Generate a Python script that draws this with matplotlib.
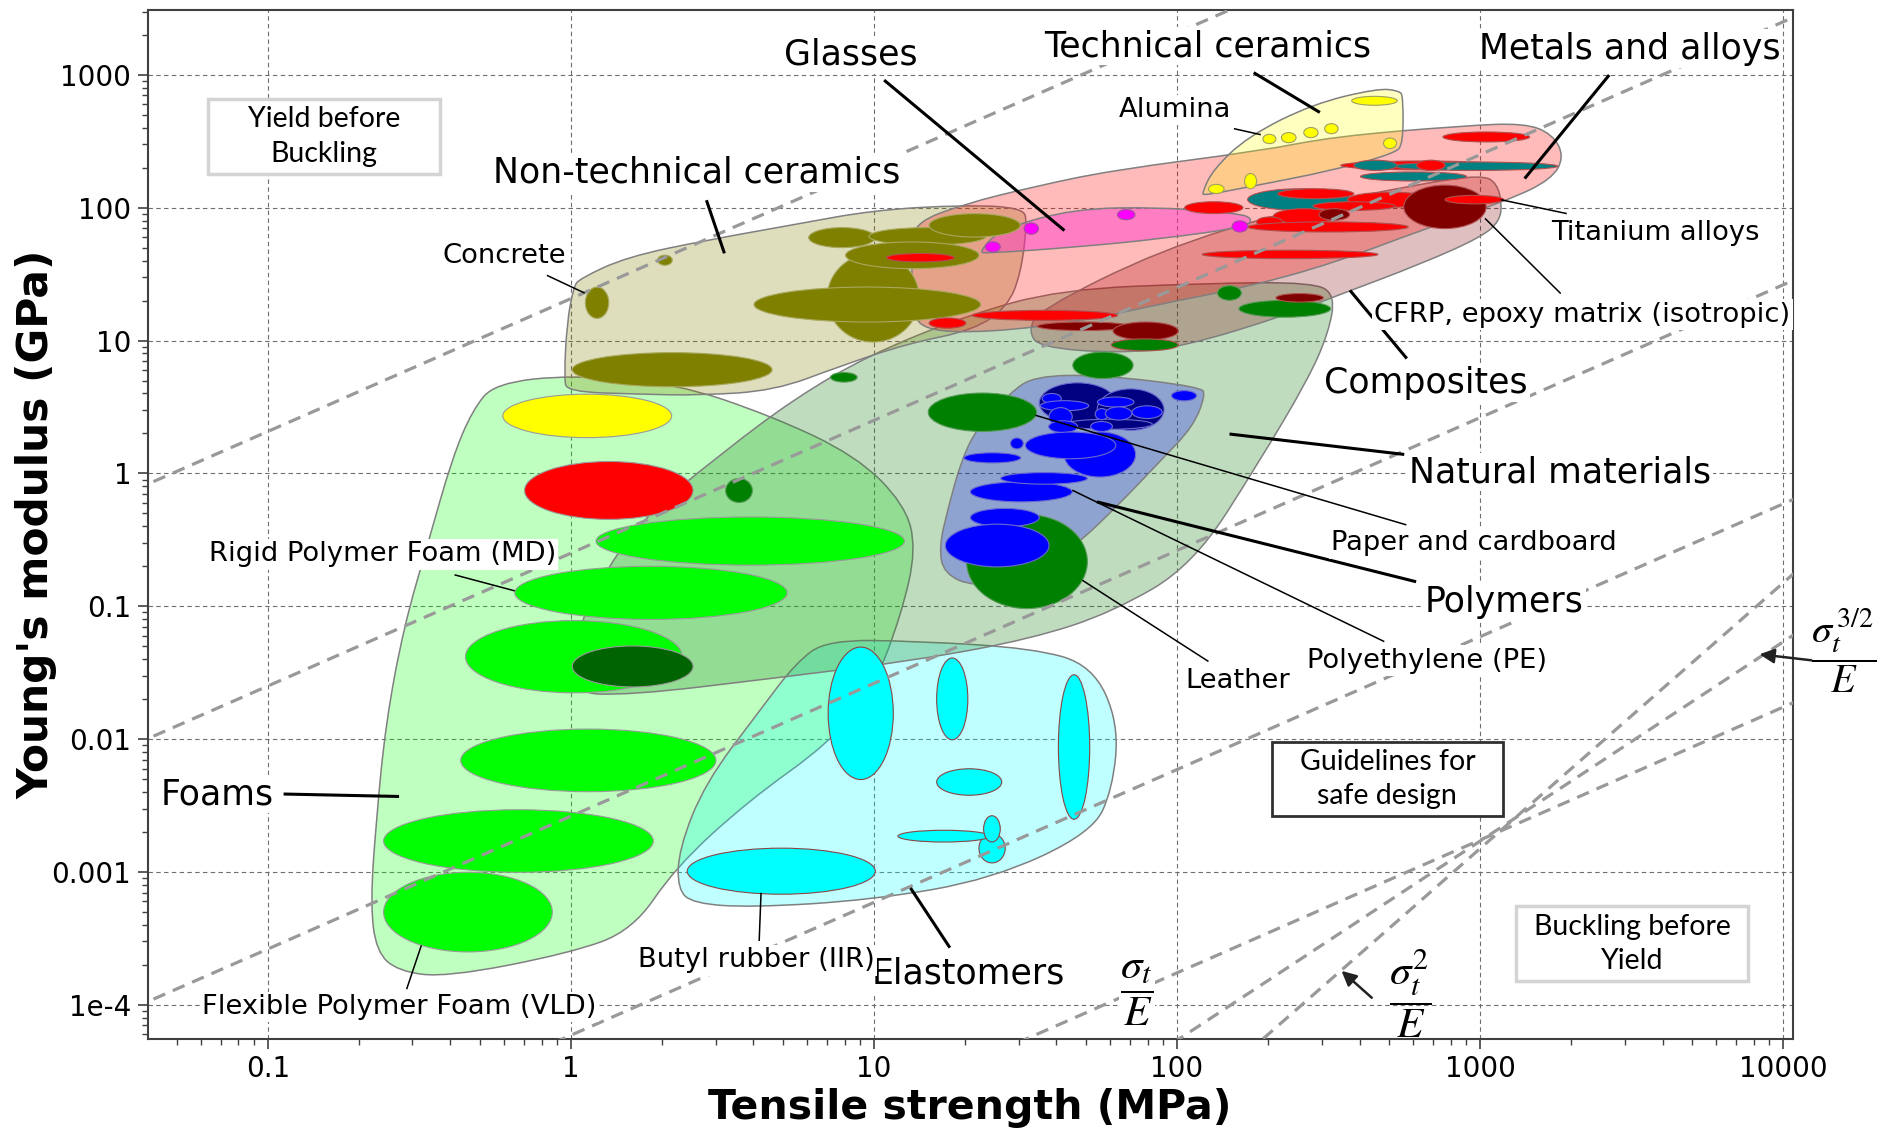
import numpy as np
import matplotlib
matplotlib.use("Agg")
import matplotlib.pyplot as plt
from matplotlib.colors import to_rgba
from matplotlib.patches import Ellipse, PathPatch, Rectangle
from matplotlib.path import Path
from matplotlib.ticker import FixedLocator, FixedFormatter, LogLocator, NullFormatter

plt.rcParams['font.family'] = ['DejaVu Sans']
plt.rcParams['mathtext.fontset'] = 'stix'

# ---- axis ticks ----
x_ticks = [0.1, 1, 10, 100, 1000, 10000]
x_tick_labels = ['0.1', '1', '10', '100', '1000', '10000']
y_ticks = [1e-4, 1e-3, 1e-2, 0.1, 1, 10, 100, 1000]
y_tick_labels = ['1e-4', '0.001', '0.01', '0.1', '1', '10', '100', '1000']

# ---- family envelopes: outline points (tensile strength MPa, modulus GPa) ----
foams_env = [(0.56, 4.77), (1.01, 5.52), (2.21, 4.77), (4.59, 2.71), (8.71, 1.36), (12.6, 0.59),
             (13.8, 0.272), (12.3, 0.0863), (10.0, 0.0247), (7.26, 0.00966), (3.83, 0.0034),
             (2.21, 0.00108), (1.6, 3.64e-4), (0.995, 2.45e-4), (0.388, 1.61e-4), (0.269, 1.79e-4),
             (0.228, 2.51e-4), (0.218, 5.8e-4), (0.228, 0.00249), (0.245, 0.0132), (0.281, 0.0702),
             (0.338, 0.302), (0.406, 1.31), (0.474, 3.01)]
elastomers_env = [(7.0, 0.0558), (13.8, 0.0547), (33.5, 0.0483), (52.5, 0.036), (64.2, 0.0132),
                  (61.3, 0.0042), (52.5, 0.00198), (24.5, 8.8e-4), (9.82, 6.15e-4), (3.93, 5.4e-4),
                  (2.53, 5.8e-4), (2.25, 7.4e-4), (2.27, 0.00148), (2.77, 0.00466), (4.19, 0.0163),
                  (5.52, 0.0375)]
natural_env = [(0.969, 0.0223), (1.042, 0.0703), (1.574, 0.389), (3.18, 1.45), (5.52, 3.71),
               (9.55, 7.7), (19.9, 15.3), (41.3, 24.3), (124, 27.0), (283, 27.5), (333, 21.9),
               (315, 11.2), (270, 5.07), (187, 1.23), (113, 0.204), (61.3, 0.0903), (33.2, 0.057),
               (13.8, 0.0392), (4.59, 0.0286), (1.574, 0.0214)]
nontech_env = [(1.02, 25.3), (1.07, 29.3), (1.53, 42.7), (2.83, 57.2), (5.5, 75), (10, 96),
               (19.9, 105), (31.1, 100), (32, 76.6), (30.5, 31.8), (27.6, 18.1), (21.4, 12),
               (12.9, 9.5), (7.7, 6.4), (4.7, 4.2), (2.65, 3.87), (1.69, 3.95), (0.97, 4.12),
               (0.95, 5.3), (0.97, 13.5)]
composites_env = [(35.1, 17.0), (88.3, 48.3), (238, 96.4), (638, 152), (1019, 177), (1137, 152),
                  (1180, 107), (1159, 79.8), (1019, 60.8), (638, 37.7), (330, 21.4), (238, 16.0),
                  (104, 8.91), (63.5, 8.03), (35.1, 8.91), (32.3, 11.9)]
metals_env = [(13.5, 76.6), (19.9, 107), (33.2, 143), (61.3, 192), (189, 268), (330, 344),
              (887, 415), (1403, 433), (1732, 359), (1897, 242), (1718, 163), (1236, 114),
              (638, 67.6), (330, 38.4), (171, 25.3), (88.3, 18.9), (49.6, 14.1), (23.9, 11.5),
              (14.4, 11.9), (13.4, 17.7), (13.3, 45.4)]
technical_env = [(121, 129), (131, 192), (171, 344), (280, 604), (459, 792), (542, 760),
                 (557, 685), (557, 303), (523, 257), (330, 192), (171, 143), (123, 124)]
glasses_env = [(22.2, 46.4), (26.1, 69), (45.7, 98.4), (88.3, 101), (160, 90.4), (177, 83.2),
               (171, 71.9), (88.3, 58.3), (45.7, 50.4), (23.6, 45.4)]
polymers_env = [(28.1, 4.03), (33.8, 5.41), (55.9, 5.52), (120, 4.48), (124, 3.87), (113, 2.25),
                (88.3, 1.25), (63.5, 0.566), (45.3, 0.273), (31.4, 0.162), (21.4, 0.14),
                (17.0, 0.176), (16.4, 0.279), (17.5, 0.532), (19.4, 1.25), (22.0, 2.25)]

# ---- material bubbles: (strength lo, strength hi, modulus lo, modulus hi) ----
foam_bubbles = [(0.596, 2.15, 1.86, 3.95), (0.703, 2.53, 0.451, 1.23), (1.21, 12.6, 0.204, 0.47),
                (0.653, 5.17, 0.0796, 0.2), (0.449, 2.33, 0.0223, 0.078), (1.01, 2.53, 0.0247, 0.0503),
                (0.433, 3.01, 0.00402, 0.0119), (0.241, 1.87, 9.94e-4, 0.00294),
                (0.241, 0.868, 2.5e-4, 9.94e-4)]
foam_colors = ['#ffff00', '#ff0000', '#00ff00', '#00ff00', '#00ff00', '#006400', '#00ff00', '#00ff00', '#00ff00']

elastomer_bubbles = [(7.06, 11.58, 0.00496, 0.0493), (16.1, 20.4, 0.00988, 0.0408),
                     (40.6, 51.5, 0.00249, 0.0305), (16.1, 26.4, 0.00378, 0.00598),
                     (22.2, 27.1, 0.00117, 0.00194), (12.0, 24.1, 0.00168, 0.00206),
                     (23.0, 26.1, 0.00168, 0.00265), (2.42, 10.1, 6.8e-4, 0.00151)]

nontech_bubbles = [(1.116, 1.333, 14.7, 25.3), (1.93, 2.16, 36.9, 44.0), (1.01, 4.61, 4.49, 8.12),
                   (7.01, 14.1, 9.75, 45.2), (4.02, 22.5, 13.8, 25.3), (6.09, 10.1, 50.1, 70.9),
                   (9.62, 23.4, 52.3, 70.9), (15.2, 30.4, 60.2, 90.3), (8.06, 22.2, 34.8, 55.3)]

natural_bubbles = [(3.24, 3.97, 0.604, 0.916), (7.19, 8.8, 4.87, 5.75), (15.1, 34.4, 2.07, 4.03),
                   (20.2, 50.6, 0.0961, 0.49), (45.3, 71.6, 5.18, 8.2), (136, 163, 20.1, 25.9),
                   (160, 321, 15.0, 20.1)]

metal_bubbles = [(171, 377, 95.7, 139), (215, 383, 117, 139), (754, 1456, 313, 372),
                 (347, 1196, 193, 225), (507, 1804, 191, 221), (383, 533, 191, 228),
                 (618, 766, 191, 228), (403, 902, 159, 186), (365, 706, 101, 131),
                 (281, 524, 95.5, 111), (106, 165, 90.4, 111), (560, 1047, 69.7, 148),
                 (766, 1196, 107, 124), (208, 331, 75.9, 98.4), (294, 371, 80.5, 98.4),
                 (183, 223, 71.6, 85.3), (171, 579, 65.7, 78.3), (121, 460, 41.4, 47.9),
                 (21.1, 63.6, 14.2, 16.9), (15.2, 20.1, 12.4, 14.8), (34.6, 70.2, 11.9, 13.8),
                 (61.5, 101, 10.1, 13.8), (60.7, 101, 8.37, 10.3), (212, 304, 19.5, 22.6),
                 (11.0, 18.4, 39.1, 45.3)]
metal_colors = ['#008080', '#ff0000', '#ff0000', '#ff0000', '#008080', '#008080', '#ff0000',
                '#008080', '#ff0000', '#ff0000', '#ff0000', '#800000', '#ff0000', '#ff0000',
                '#800000', '#ff0000', '#ff0000', '#ff0000', '#ff0000', '#ff0000', '#800000',
                '#800000', '#008000', '#800000', '#ff0000']

technical_bubbles = [(377, 533, 591, 690), (192, 212, 304, 357), (221, 247, 309, 368),
                     (262, 292, 337, 402), (307, 340, 361, 430), (480, 530, 279, 335),
                     (167, 183, 139, 181), (127, 143, 128, 150)]

glass_bubbles = [(63.6, 72.6, 81.3, 96.9), (31.3, 34.9, 63.2, 76.9), (23.3, 26.1, 46.5, 55.4),
                 (152, 171, 65.7, 79.7)]

polymer_bubbles = [(35.1, 62.8, 2.40, 4.81), (54.5, 90.6, 2.11, 4.33), (42.9, 82.9, 2.15, 2.56),
                   (35.9, 41.5, 3.36, 4.0), (35.4, 51.1, 2.96, 3.53), (54.6, 72.1, 3.16, 3.76),
                   (53.7, 59.3, 2.54, 3.08), (58.0, 71.0, 2.52, 3.17), (71.0, 89.3, 2.59, 3.23),
                   (51.9, 61.2, 2.07, 2.46), (37.8, 45.1, 2.28, 3.13), (37.7, 47.0, 2.03, 2.49),
                   (95.9, 116, 3.52, 4.2), (28.2, 31.1, 1.53, 1.85), (42.4, 73.0, 0.94, 2.05),
                   (31.6, 62.8, 1.29, 2.05), (19.8, 30.5, 1.2, 1.43), (20.8, 45.1, 0.611, 0.864),
                   (26.2, 50.6, 0.83, 1.015), (20.8, 35.1, 0.397, 0.545), (17.2, 37.8, 0.198, 0.415)]
polymer_colors = ['#000080'] * 3 + ['#0000ff'] * 18

# ---- design guidelines: E = E(1 MPa) * strength**n ----
guide_slope = [1, 1, 1, 1, 1, 1.5, 2]
guide_E_at_1MPa = [20.7, 0.251, 0.00263, 5.9e-5, 1.74e-6, 5.4e-8, 1.5e-9]


fig = plt.figure(figsize=(18.89, 11.35), dpi=100)
ax = fig.add_axes([0.0783, 0.0848, 0.8711, 0.9064])
ax.set_xscale('log')
ax.set_yscale('log')
ax.set_xlim(0.0402, 10810)
ax.set_ylim(5.55e-5, 3082)
ax.autoscale(False)

# patches are built in log10 units and placed with the axes' own affine part
logt = ax.transLimits + ax.transAxes


def envelope(pts, color, alpha):
    p = np.log10(np.asarray(pts, float))
    mids = (p + np.roll(p, -1, axis=0)) / 2
    verts = [mids[-1]]
    codes = [Path.MOVETO]
    for i in range(len(p)):
        verts += [p[i], mids[i]]
        codes += [Path.CURVE3, Path.CURVE3]
    verts.append(mids[-1])
    codes.append(Path.CLOSEPOLY)
    ax.add_patch(PathPatch(Path(verts, codes), transform=logt, fc=to_rgba(color, alpha),
                           ec='#808080', lw=1.1, zorder=1))


def bubbles(ranges, colors, edge='#9a9a9a'):
    if isinstance(colors, str):
        colors = [colors] * len(ranges)
    for (s0, s1, e0, e1), c in zip(ranges, colors):
        x0, x1 = np.log10([s0, s1])
        y0, y1 = np.log10([e0, e1])
        ax.add_patch(Ellipse(((x0 + x1) / 2, (y0 + y1) / 2), x1 - x0, y1 - y0, transform=logt,
                             fc=c, ec=edge, lw=0.8, zorder=2))


envelope(foams_env, '#00ff00', 0.25)
envelope(elastomers_env, '#00ffff', 0.25)
envelope(natural_env, '#2e8b2e', 0.30)
envelope(nontech_env, '#808000', 0.26)
envelope(composites_env, '#800000', 0.25)
envelope(metals_env, '#ff0000', 0.27)
envelope(technical_env, '#ffff00', 0.25)
envelope(glasses_env, '#ff33cc', 0.45)
envelope(polymers_env, '#0000ff', 0.255)

bubbles(foam_bubbles, foam_colors)
bubbles(elastomer_bubbles, '#00ffff', edge='#8b4545')
bubbles(nontech_bubbles, '#808000', edge='#a8a860')
bubbles(natural_bubbles, '#008000', edge='#5a9a5a')
bubbles(metal_bubbles, metal_colors, edge='#b05050')
bubbles(technical_bubbles, '#ffff00', edge='#a0a060')
bubbles(glass_bubbles, '#ff00ff', edge='#a050a0')
bubbles(polymer_bubbles, polymer_colors, edge='#6a6ad0')

s = np.array([0.01, 1e5])
for n, e1 in zip(guide_slope, guide_E_at_1MPa):
    ax.plot(s, e1 * s ** n, color='#999999', lw=2.3, ls=(0, (4, 2.6)), zorder=3)

# ---- axes styling ----
ax.xaxis.set_major_locator(FixedLocator(x_ticks))
ax.xaxis.set_major_formatter(FixedFormatter(x_tick_labels))
ax.yaxis.set_major_locator(FixedLocator(y_ticks))
ax.yaxis.set_major_formatter(FixedFormatter(y_tick_labels))
for axis in (ax.xaxis, ax.yaxis):
    axis.set_minor_locator(LogLocator(base=10, subs=np.arange(2, 10), numticks=30))
    axis.set_minor_formatter(NullFormatter())
ax.tick_params(which='major', direction='out', length=7, width=1.2, labelsize=20, pad=5, color='#404040')
ax.tick_params(which='minor', direction='out', length=4, width=1, color='#404040')
ax.set_axisbelow(True)
ax.grid(True, which='major', ls=(0, (4, 3)), lw=0.8, color='#6e6e6e')
for sp in ax.spines.values():
    sp.set_color('#404040')
    sp.set_linewidth(1.5)

fig.text(0.5134, 0.0234, 'Tensile strength (MPa)', ha='center', va='center', fontsize=29.5,
         fontweight='bold')
fig.text(0.0191, 0.538, "Young's modulus (GPa)", ha='center', va='center', rotation=90,
         fontsize=30.5, fontweight='bold')

# ---- labels with leader lines ----
big_labels = [
    ('Glasses', (8.4, 1422), [(10.8, 914), (42.5, 67.4)]),
    ('Technical ceramics', (126, 1646), [(179, 1040), (296, 522)]),
    ('Metals and alloys', (3112, 1580), [(2666, 998), (1403, 166)]),
    ('Non-technical ceramics', (2.6, 184), [(2.8, 114), (3.21, 45.4)]),
    ('Composites', (662, 4.77), [(372, 23.9), (573, 7.33)]),
    ('Natural materials', (1830, 1.02), [(149, 1.98), (562, 1.39)]),
    ('Polymers', (1202, 0.107), [(54.4, 0.611), (615, 0.153)]),
    ('Foams', (0.068, 0.00386), [(0.1127, 0.00386), (0.271, 0.0037)]),
    ('Elastomers', (20.4, 1.72e-4), [(17.8, 2.69e-4), (13.2, 7.57e-4)]),
]
small_labels = [
    ('Alumina', (98.6, 545), [(154, 394), (189, 355)]),
    ('Concrete', (0.601, 43.6), [(0.833, 31), (1.11, 22.8)]),
    ('Titanium alloys', (3776, 64.7), [(1932, 90.4), (1169, 115)]),
    ('CFRP, epoxy matrix (isotropic)', (2178, 15.7), [(1845, 22.6), (1038, 83.2)]),
    ('Paper and cardboard', (955, 0.297), [(571, 0.41), (34.1, 2.74)]),
    ('Polyethylene (PE)', (668, 0.039), [(483, 0.0542), (45.1, 0.748)]),
    ('Leather', (159, 0.0275), [(127, 0.0384), (48.7, 0.157)]),
    ('Rigid Polymer Foam (MD)', (0.239, 0.246), [(0.413, 0.1725), (0.653, 0.1306)]),
    ('Flexible Polymer Foam (VLD)', (0.271, 9.6e-5), [(0.287, 1.31e-4), (0.321, 2.8e-4)]),
    ('Butyl rubber (IIR)', (4.08, 2.16e-4), [(4.18, 3.02e-4), (4.24, 6.97e-4)]),
]
for group, size, lw in ((big_labels, 25, 2.2), (small_labels, 19.7, 1.1)):
    for text, pos, line in group:
        ax.text(*pos, text, fontsize=size, ha='center', va='center', zorder=6,
                bbox=dict(fc='white', ec='none', pad=1.5))
        (x0, y0), (x1, y1) = line
        ax.plot([x0, x1], [y0, y1], color='black', lw=lw, zorder=5, solid_capstyle='butt')

# ---- boxed notes ----
boxes = [('Yield before\nBuckling', (0.0633, 180), (0.370, 657), '#d4d4d4', 2.5),
         ('Buckling before\nYield', (1318, 1.51e-4), (7640, 5.5e-4), '#d4d4d4', 2.5),
         ('Guidelines for\nsafe design', (205, 0.00265), (1191, 0.0095), '#303030', 2.0)]
for text, lo, hi, ec, lw in boxes:
    (x0, y0), (x1, y1) = np.log10(lo), np.log10(hi)
    ax.add_patch(Rectangle((x0, y0), x1 - x0, y1 - y0, transform=logt, fc='white', ec=ec,
                           lw=lw, zorder=6))
    ax.text((x0 + x1) / 2, (y0 + y1) / 2, text, transform=logt, ha='center', va='center',
            fontsize=20.5, family='Lato', linespacing=1.4, zorder=7)

# ---- guideline labels and arrows ----
ax.text(73.6, 1.21e-4, r'$\dfrac{\sigma_t}{E}$', fontsize=31, ha='center', va='center', zorder=6,
        bbox=dict(fc='white', ec='none', pad=1))
ax.text(588, 1.21e-4, r'$\dfrac{\sigma_t^2}{E}$', fontsize=31, ha='center', va='center', zorder=6)
fig.text(0.9758, 0.4268, r'$\dfrac{\sigma_t^{\,3/2}}{E}$', fontsize=29, ha='center', va='center')

arrow_style = dict(arrowstyle='-|>', color='#222222', lw=1.8, mutation_scale=22, shrinkA=0, shrinkB=0)
ax.annotate('', xy=(349, 1.8e-4), xytext=(439, 1.13e-4), arrowprops=arrow_style, zorder=6)
ax.annotate('', xy=(8360, 0.0435), xytext=(12400, 0.0392), arrowprops=arrow_style,
            annotation_clip=False, zorder=6)

fig.savefig('out.png', dpi=100)
